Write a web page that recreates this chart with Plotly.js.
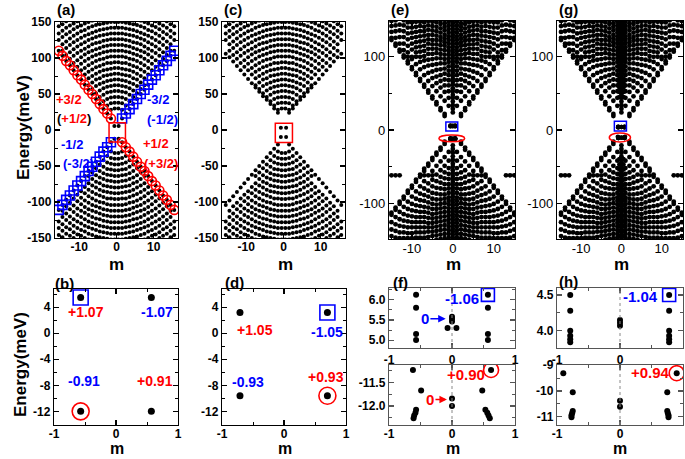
<!DOCTYPE html>
<html><head><meta charset="utf-8">
<script src="https://cdn.plot.ly/plotly-3.0.1.min.js"></script>
<style>html,body{margin:0;padding:0;background:#fff}#chart{width:685px;height:459px}</style>
</head><body><div id="chart"></div>
<script>
// ---------------- DATA ----------------
// |m| values for panels (a),(c) (half-integer angular momentum)
const absM = [0.5,1.5,2.5,3.5,4.5,5.5,6.5,7.5,8.5,9.5,10.5,11.5,12.5,13.5,14.5,15.5];
// bulk rows (a),(c): energy at |m| = absM[i]
const bulkUpper = [
 [30,28],[38,37,34],[46,45,43,40],[54,53,52,49,46],[62,61,60,58,55,51],
 [70,69,68,66,64,61,57],[78,77,76,75,72,70,66,62],[86,85,84,83,81,78,75,72],
 [94,93,93,91,89,87,84,81,77],[102,102,101,99,98,96,93,90,86,83],
 [110,110,109,108,106,104,102,99,96,92,88],[118,118,117,116,114,112,110,108,105,101,97,93],
 [126,126,125,124,122,121,119,116,113,110,107,103,99],
 [134,134,133,132,131,129,127,125,122,119,116,112,108,104],
 [142,142,141,140,139,137,135,133,131,128,125,122,118,114,110],
 [150,150,149,148,147,146,144,142,139,137,134,131,127,123,119],
 [158,158,157,156,155,154,152,150,148,145,143,140,136,133,129,125],
 [166,166,165,164,163,162,160,159,156,154,151,148,145,142,138,134],
 [174,174,173,172,171,170,169,167,165,163,160,157,154,151,147,144]
];
const bulkLower = [
 [-32,-30],[-40,-39,-36],[-48,-47,-45,-42],[-56,-55,-54,-51,-48],[-64,-63,-62,-60,-57,-53],
 [-72,-71,-70,-68,-66,-63,-59],[-80,-79,-78,-77,-74,-72,-68,-64],[-88,-87,-86,-85,-83,-80,-77,-74],
 [-96,-95,-95,-93,-91,-89,-86,-83,-79],[-104,-104,-103,-101,-100,-98,-95,-92,-88,-85],
 [-112,-112,-111,-110,-108,-106,-104,-101,-98,-94,-90],[-120,-120,-119,-118,-116,-114,-112,-110,-107,-103,-99,-95],
 [-128,-128,-127,-126,-124,-123,-121,-118,-115,-112,-109,-105,-101],
 [-136,-136,-135,-134,-133,-131,-129,-127,-124,-121,-118,-114,-110,-106],
 [-144,-144,-143,-142,-141,-139,-137,-135,-133,-130,-127,-124,-120,-116,-112],
 [-152,-152,-151,-150,-149,-148,-146,-144,-141,-139,-136,-133,-129,-125,-121],
 [-160,-160,-159,-158,-157,-156,-154,-152,-150,-147,-145,-142,-138,-135,-131,-127],
 [-168,-168,-167,-166,-165,-164,-162,-161,-158,-156,-153,-150,-147,-144,-140,-136],
 [-176,-176,-175,-174,-173,-172,-171,-169,-167,-165,-162,-159,-156,-153,-149,-146]
];
// edge states at |m| = 1.5 ... 15.5
const edgeAbsM = [1.5,2.5,3.5,4.5,5.5,6.5,7.5,8.5,9.5,10.5,11.5,12.5,13.5,14.5,15.5];
const edgeUpperA = [16,23,29,36,43,50,56,63,70,76,83,90,96,103,110];
const edgeLowerA = [-17,-24,-30,-37,-44,-51,-57,-64,-71,-77,-84,-91,-97,-104,-111];
const edgeUpperC = [24,30,36,42,47,53,59,65,71,77,83,89,95,101,106];
const edgeLowerC = [-20,-26,-32,-38,-44,-50,-56,-62,-68,-74,-80,-86,-92,-98,-104];

// (b) and (d) low-energy states
const bM = [-0.57,0.57,-0.57,0.57];
const bE = [5.5,5.5,-12,-12];
const dM = [-0.71,0.7,-0.71,0.7];
const dE = [3.2,3.2,-9.6,-9.6];
// (f)
const fTopM = [-0.57,-0.57,-0.57,-0.57,0.57,0.57,0.57,0.57,0,0,0,-0.07,0.07];
const fTopE = [6.12,5.8,5.15,5.0,6.12,5.8,5.15,5.0,5.58,5.52,5.46,5.3,5.3];
const fBotM = [-0.62,0.62,-0.49,0.48,0,0,-0.57,-0.58,-0.6,-0.61,0.53,0.56,0.58,0.6];
const fBotE = [-11.24,-11.24,-11.67,-11.67,-11.84,-12.0,-12.08,-12.14,-12.2,-12.26,-12.08,-12.14,-12.2,-12.26];
// (h)
const hTopM = [-0.79,-0.79,-0.79,-0.79,-0.79,-0.79,0.78,0.78,0.78,0.78,0.78,0.78,0,0,0];
const hTopE = [4.5,4.28,4.0,3.93,3.88,3.84,4.5,4.28,4.0,3.93,3.88,3.84,4.15,4.11,4.07];
const hBotM = [-0.9,0.9,-0.75,-0.75,-0.76,-0.77,-0.77,0.75,0.75,0.76,0.77,0.77,0,0];
const hBotE = [-9.31,-9.31,-10.05,-10.78,-10.86,-10.94,-11.02,-10.05,-10.78,-10.86,-10.94,-11.02,-10.38,-10.61];

// (e),(g) dense spectra: columns at |m| = colM[i]
const colM = [0,1,2,3,4,5,6,7,8,9,10,11,12,13,14,15];
const eUp = [
 [24,29,34,39,44,48,53,57,62,66,70,74,78,82,86,90,94,98,102,106,110,114,118,122,126,130,134,138,142,146,150],
 [33,44,53,61,68,75,81,87,93,98,103,108,113,118,123,128,133,138,143,148],
 [19,22,40,52,61,69,77,84,91,97,103,109,115,120,125,130,136,141,146],
 [27,30,46,58,67,75,83,91,98,104,110,116,122,127,133,139,145,150],
 [35,38,53,64,73,82,90,98,105,111,117,123,129,135,141,147],
 [43,46,60,71,80,89,97,104,111,117,123,130,136,142,148],
 [51,54,67,78,88,96,104,111,118,124,130,137,143,149],
 [59,62,75,86,95,101,108,115,122,129,135,141,147],
 [67,70,83,93,100,107,114,121,128,135,142,148],
 [75,78,90,100,106,113,120,127,134,141,148],
 [83,86,97,100,110,118,126,133,140,147],
 [91,94,100,106,115,124,132,140,147],
 [99,102,109,118,127,135,143,150],
 [107,110,118,127,136,144],
 [115,118,126,135,143,150],
 [123,126,134,142,149]
];
const eLo = [
 [-21,-26,-31,-36,-41,-46,-50,-55,-59,-63,-67,-71,-75,-79,-83,-87,-91,-95,-99,-103,-107,-111,-115,-119,-123,-127,-131,-135,-139,-143,-147],
 [-30,-42,-52,-60,-67,-74,-80,-86,-92,-97,-102,-107,-112,-117,-122,-127,-132,-137,-142,-147],
 [-16,-19,-37,-49,-58,-66,-74,-81,-88,-94,-100,-106,-112,-118,-124,-130,-136,-142,-148],
 [-24,-27,-43,-55,-64,-72,-80,-88,-95,-101,-107,-113,-119,-125,-131,-137,-143,-149],
 [-31,-34,-49,-61,-70,-79,-87,-95,-102,-108,-114,-120,-126,-132,-138,-144,-150],
 [-38,-41,-56,-62,-68,-77,-86,-94,-101,-108,-115,-121,-127,-133,-139,-145],
 [-46,-49,-62,-73,-83,-91,-99,-106,-113,-120,-127,-133,-139,-146],
 [-53,-56,-62,-70,-80,-89,-97,-105,-112,-119,-126,-133,-140,-147],
 [-61,-64,-77,-87,-96,-104,-112,-119,-126,-133,-140,-147],
 [-68,-71,-84,-94,-103,-111,-119,-126,-133,-140,-147],
 [-76,-79,-91,-101,-110,-118,-126,-133,-141,-148],
 [-83,-86,-98,-108,-117,-125,-133,-141,-148],
 [-91,-94,-105,-115,-124,-132,-140,-148],
 [-62,-98,-101,-112,-122,-131,-140,-148],
 [-62,-106,-109,-119,-129,-138,-147],
 [-62,-113,-116,-126,-136,-145]
];
// extra states in (g) near the centre column, at |m| = 0.5
const gExtraE = [45,52,58,64,70,76,82,88,94,100,106,112,118,124,130,136,142,148,
                 -40,-47,-54,-61,-68,-75,-82,-89,-96,-103,-110,-117,-124,-131,-138,-145];

// tick values / labels
const tkA = {x:[-10,0,10], xl:['-10','0','10'], xm:[-15,-5,5,15],
             y:[-150,-100,-50,0,50,100,150], yl:['-150','-100','-50','0','50','100','150'], ym:[-125,-75,-25,25,75,125]};
const tkE = {y:[-100,0,100], yl:['-100','0','100'], ym:[-50,50]};
const tkB = {x:[-1,0,1], xl:['-1','0','1'], xm:[-0.5,0.5],
             y:[-12,-8,-4,0,4], yl:['-12','-8','-4','0','4'], ym:[-14,-10,-6,-2,2,6]};
const tkFt = {y:[5.0,5.5,6.0], yl:['5.0','5.5','6.0'], ym:[5.25,5.75,6.25]};
const tkFb = {y:[-12.0,-11.5], yl:['-12.0','-11.5'], ym:[-12.25,-11.75,-11.25]};
const tkHt = {y:[4.0,4.5], yl:['4.0','4.5'], ym:[3.75,4.25]};
const tkHb = {y:[-11,-10,-9], yl:['-11','-10','-9'], ym:[-10.5,-9.5]};

// ---------------- BUILD ----------------
const W = 685, H = 459;
const FONT = 'Liberation Sans, Arial, sans-serif';
const px = x => x / W, py = y => 1 - y / H;
const traces = [];
function dots(x, y, xa, ya, size) {
  traces.push({type:'scatter', mode:'markers', x, y, xaxis:xa, yaxis:ya,
    marker:{color:'#000', size, line:{width:0}}, hoverinfo:'skip'});
}
function openMk(x, y, xa, ya, sym, color, size) {
  traces.push({type:'scatter', mode:'markers', x, y, xaxis:xa, yaxis:ya,
    marker:{symbol:sym, color, size, line:{color, width:1.6}}, hoverinfo:'skip'});
}
function rowsXY(rows) {
  const xs = [], ys = [];
  rows.forEach(r => r.forEach((E, i) => { xs.push(-absM[i], absM[i]); ys.push(E, E); }));
  return [xs, ys];
}
function colsXY(cols) {
  const xs = [], ys = [];
  cols.forEach((c, i) => c.forEach(E => {
    if (colM[i] === 0) { xs.push(0); ys.push(E); }
    else { xs.push(-colM[i], colM[i]); ys.push(E, E); }
  }));
  return [xs, ys];
}

// panel (a): x,y ; panel (c): x2,y2
[['x','y',edgeUpperA,edgeLowerA,bM,bE],['x2','y2',edgeUpperC,edgeLowerC,dM,dE]].forEach(([xa,ya,eu,el,lm,le]) => {
  let [x1,y1] = rowsXY(bulkUpper); dots(x1,y1,xa,ya,4);
  let [x2,y2] = rowsXY(bulkLower); dots(x2,y2,xa,ya,4);
  const ex = [], ey = [];
  edgeAbsM.forEach((m,i) => { ex.push(-m, m, -m, m); ey.push(eu[i], eu[i], el[i], el[i]); });
  dots(ex, ey, xa, ya, 4);
  dots(lm, le, xa, ya, 4);
});
// coloured edge markers in (a)
openMk(edgeAbsM.map(m=>-m), edgeUpperA, 'x','y','circle-open','#ff0000',9);
openMk(edgeAbsM, edgeLowerA, 'x','y','circle-open','#ff0000',9);
openMk(edgeAbsM, edgeUpperA, 'x','y','square-open','#0000ff',9);
openMk(edgeAbsM.map(m=>-m), edgeLowerA, 'x','y','square-open','#0000ff',9);

// panel (e): x3,y3 ; (g): x4,y4
[['x3','y3'],['x4','y4']].forEach(([xa,ya]) => {
  let [x1,y1] = colsXY(eUp); dots(x1,y1,xa,ya,4.8);
  let [x2,y2] = colsXY(eLo); dots(x2,y2,xa,ya,4.8);
});
dots(fTopM, fTopE, 'x3','y3',4.5); dots(fBotM, fBotE, 'x3','y3',4.5);
dots(hTopM, hTopE, 'x4','y4',4.5); dots(hBotM, hBotE, 'x4','y4',4.5);
dots(gExtraE.map(()=>-0.5), gExtraE, 'x4','y4',4.8);
dots(gExtraE.map(()=>0.5), gExtraE, 'x4','y4',4.8);

// (b) x5,y5 ; (d) x6,y6
dots(bM, bE, 'x5','y5',7);
openMk([bM[0]],[bE[0]],'x5','y5','square-open','#0000ff',15);
openMk([bM[2]],[bE[2]],'x5','y5','circle-open','#ff0000',17);
dots(dM, dE, 'x6','y6',7);
openMk([dM[1]],[dE[1]],'x6','y6','square-open','#0000ff',15);
openMk([dM[3]],[dE[3]],'x6','y6','circle-open','#ff0000',17);
// (f) x7,y7 / x8,y8 ; (h) x9,y9 / x10,y10
dots(fTopM, fTopE, 'x7','y7',6);
openMk([fTopM[4]],[fTopE[4]],'x7','y7','square-open','#0000ff',13);
dots(fBotM, fBotE, 'x8','y8',6);
openMk([fBotM[1]],[fBotE[1]],'x8','y8','circle-open','#ff0000',15);
dots(hTopM, hTopE, 'x9','y9',6);
openMk([hTopM[6]],[hTopE[6]],'x9','y9','square-open','#0000ff',13);
dots(hBotM, hBotE, 'x10','y10',6);
openMk([hBotM[1]],[hBotE[1]],'x10','y10','circle-open','#ff0000',15);

// axes
function axis(d0, d1, range, tk, anchor, bold, isX, fs, lc, standoff) {
  const dom = isX ? [px(d0), px(d1)] : [py(d1), py(d0)];
  const o = {domain:dom, range, anchor, showgrid:false, zeroline:false, showline:true,
    linecolor:lc||'#000', linewidth:1.2, mirror:'allticks', ticks:'inside', ticklen:5, tickwidth:1.2,
    tickcolor:lc||'#000', fixedrange:true,
    tickfont:{family:FONT, size:fs||12, color:'#000', weight: bold ? 'bold' : 'normal'}};
  o.tickmode = 'array'; o.tickvals = tk[0]; o.ticktext = tk[1];
  o.minor = {tickmode:'array', tickvals:tk[2], ticks:'inside', ticklen:3, tickwidth:1, tickcolor:lc||'#000'};
  if (standoff) o.ticklabelstandoff = standoff;
  return o;
}
const L = {width:W, height:H, margin:{l:0,r:0,t:0,b:0}, paper_bgcolor:'#fff', plot_bgcolor:'rgba(0,0,0,0)',
  showlegend:false, hovermode:false, font:{family:FONT, color:'#000'}};
const xA = [tkA.x, tkA.xl, tkA.xm], yA = [tkA.y, tkA.yl, tkA.ym];
const yE = [tkE.y, tkE.yl, tkE.ym];
const xB = [tkB.x, tkB.xl, tkB.xm], yB = [tkB.y, tkB.yl, tkB.ym];
L.xaxis  = axis(55, 178, [-16.5,16.5], xA, 'y', true, true, 12, null, -3);
L.yaxis  = axis(22, 238, [-150,150], yA, 'x', true, false);
L.xaxis2 = axis(222, 345, [-16.5,16.5], xA, 'y2', true, true, 12, null, -3);
L.yaxis2 = axis(22, 238, [-150,150], yA, 'x2', true, false);
L.xaxis3 = axis(389, 515, [-15.6,15.2], xA, 'y3', false, true, 13, null, -3);
L.yaxis3 = axis(21, 239, [-149,149], yE, 'x3', false, false, 13);
L.xaxis4 = axis(557, 683, [-16,15.3], xA, 'y4', false, true, 13, null, -3);
L.yaxis4 = axis(21, 239, [-149,149], yE, 'x4', false, false, 13);
L.xaxis5 = axis(54, 178, [-1,1], xB, 'y5', true, true, 12, null, -3);
L.yaxis5 = axis(289, 425, [-14.1,6.8], yB, 'x5', true, false);
L.xaxis6 = axis(222, 346, [-1,1], xB, 'y6', true, true, 12, null, -3);
L.yaxis6 = axis(289, 425, [-14.1,6.8], yB, 'x6', true, false);
L.xaxis7 = axis(389, 515, [-1,1], xB, 'y7', true, true, 12, '#555');
L.yaxis7 = axis(288, 348, [4.805,6.29], [tkFt.y,tkFt.yl,tkFt.ym], 'x7', true, false, 12, '#555');
L.xaxis8 = axis(389, 515, [-1,1], xB, 'y8', true, true, 12, '#555', -3);
L.yaxis8 = axis(365, 425, [-12.4,-11.135], [tkFb.y,tkFb.yl,tkFb.ym], 'x8', true, false, 12, '#555');
L.xaxis9 = axis(557, 683, [-1,1], xB, 'y9', true, true, 12, '#555');
L.yaxis9 = axis(288, 348, [3.758,4.598], [tkHt.y,tkHt.yl,tkHt.ym], 'x9', true, false, 12, '#555');
L.xaxis10 = axis(557, 683, [-1,1], xB, 'y10', true, true, 12, '#555', -3);
L.yaxis10 = axis(365, 425, [-11.32,-8.99], [tkHb.y,tkHb.yl,tkHb.ym], 'x10', true, false, 12, '#555');

// shapes
const RED = '#ff0000', BLUE = '#0000ff';
L.shapes = [
  {type:'rect', xref:'x', yref:'y', x0:-2, x1:2.4, y0:-16.5, y1:10, line:{color:RED, width:1.5}},
  {type:'rect', xref:'x2', yref:'y2', x0:-2.2, x1:2.4, y0:-17.5, y1:9.5, line:{color:RED, width:1.5}},
  {type:'rect', xref:'x3', yref:'y3', x0:-1.7, x1:1.2, y0:-1.4, y1:11, line:{color:BLUE, width:1.5}},
  {type:'circle', xref:'x3', yref:'y3', x0:-3.4, x1:2.9, y0:-16, y1:-7, line:{color:RED, width:1.5}},
  {type:'rect', xref:'x4', yref:'y4', x0:-1.75, x1:1.25, y0:-1.4, y1:12, line:{color:BLUE, width:1.5}},
  {type:'circle', xref:'x4', yref:'y4', x0:-3, x1:2.25, y0:-16.4, y1:-4, line:{color:RED, width:1.5}},
  {type:'line', xref:'x7', yref:'y7 domain', x0:0, x1:0, y0:0, y1:1, line:{color:'#888', width:1, dash:'dot'}},
  {type:'line', xref:'x8', yref:'y8 domain', x0:0, x1:0, y0:0, y1:1, line:{color:'#888', width:1, dash:'dot'}},
  {type:'line', xref:'x9', yref:'y9 domain', x0:0, x1:0, y0:0, y1:1, line:{color:'#888', width:1, dash:'dot'}},
  {type:'line', xref:'x10', yref:'y10 domain', x0:0, x1:0, y0:0, y1:1, line:{color:'#888', width:1, dash:'dot'}}
];

// annotations
function ann(text, x, y, size, color, extra) {
  return Object.assign({text, x:px(x), y:py(y), xref:'paper', yref:'paper', showarrow:false,
    xanchor:'center', yanchor:'middle', font:{family:FONT, size, color:color||'#000'}}, extra||{});
}
const A = [];
[['(a)',55,9],['(c)',222,10],['(e)',389,10],['(g)',557,10],['(b)',53,283],['(d)',223,282],['(f)',391,282],['(h)',557,281]]
  .forEach(([t,x,y]) => A.push(ann('<b>'+t+'</b>', x, y, 15, '#000', {xanchor:'left'})));
A.push(ann('<b>Energy(meV)</b>', 24, 128, 17, '#000', {textangle:-90}));
A.push(ann('<b>Energy(meV)</b>', 20, 365, 17, '#000', {textangle:-90}));
[[116,264],[285,264],[453,264],[621,264]]
  .forEach(([x,y]) => A.push(ann('<b>m</b>', x, y, 17)));
[[117,459],[285,459],[453,459],[620,459]]
  .forEach(([x,y]) => A.push(ann('<b>m</b>', x, y, 16, '#000', {yanchor:'bottom'})));
// (a) labels
A.push(ann('<b>+3/2</b>', 69, 99, 13, RED));
A.push(ann('<b>(<span style="color:#ff0000">+1/2</span>)</b>', 74, 118, 13, '#000'));
A.push(ann('<b>-3/2</b>', 158, 99, 13, BLUE));
A.push(ann('<b>(-1/2)</b>', 162, 119, 13, BLUE));
A.push(ann('<b>-1/2</b>', 72, 144, 13, BLUE));
A.push(ann('<b>(-3/2)</b>', 78, 163, 13, BLUE));
A.push(ann('<b>+1/2</b>', 156, 143, 13, RED));
A.push(ann('<b>(+3/2)</b>', 161, 163, 13, RED));
// (b) / (d)
A.push(ann('<b>+1.07</b>', 86, 312, 14, RED));
A.push(ann('<b>-1.07</b>', 157, 312, 14, BLUE));
A.push(ann('<b>-0.91</b>', 84, 381, 14, BLUE));
A.push(ann('<b>+0.91</b>', 155, 381, 14, RED));
A.push(ann('<b>+1.05</b>', 255, 330, 14, RED));
A.push(ann('<b>-1.05</b>', 327, 332, 14, BLUE));
A.push(ann('<b>-0.93</b>', 248, 382, 14, BLUE));
A.push(ann('<b>+0.93</b>', 326, 377, 14, RED));
// (f) / (h)
A.push(ann('<b>-1.06</b>', 462, 298, 15, BLUE));
A.push(ann('<b>+0.90</b>', 466, 374, 15, RED));
A.push(ann('<b>-1.04</b>', 640, 296, 15, BLUE));
A.push(ann('<b>+0.94</b>', 650, 372, 15, RED));
A.push({text:'<b>0</b>', x:-0.1, y:5.53, xref:'x7', yref:'y7', ax:-0.43, ay:5.53, axref:'x7', ayref:'y7',
  showarrow:true, arrowhead:2, arrowsize:1, arrowwidth:1.5, arrowcolor:BLUE, font:{family:FONT, size:15, color:BLUE}});
A.push({text:'<b>0</b>', x:-0.08, y:-11.86, xref:'x8', yref:'y8', ax:-0.35, ay:-11.86, axref:'x8', ayref:'y8',
  showarrow:true, arrowhead:2, arrowsize:1, arrowwidth:1.5, arrowcolor:RED, font:{family:FONT, size:15, color:RED}});
L.annotations = A;

Plotly.newPlot('chart', traces, L, {staticPlot:true, displayModeBar:false});
</script></body></html>
